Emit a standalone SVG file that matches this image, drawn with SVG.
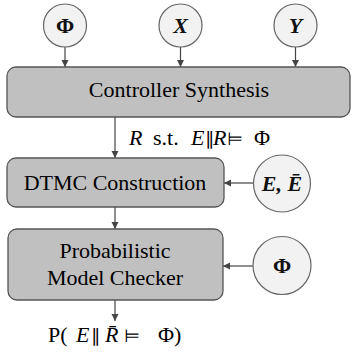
<svg xmlns="http://www.w3.org/2000/svg" width="352" height="354" viewBox="0 0 352 354">
<defs>
<marker id="ah" markerWidth="8" markerHeight="8" refX="7" refY="4" orient="auto" markerUnits="userSpaceOnUse">
<path d="M0,0.5 L7,4 L0,7.5 Z" fill="#444"/>
</marker>
</defs>
<rect width="352" height="354" fill="#fff"/>
<g id="connectors" stroke="#444" stroke-width="1.2" fill="none" marker-end="url(#ah)">
<line x1="65" y1="47" x2="65" y2="67"/>
<line x1="180.5" y1="47" x2="180.5" y2="67"/>
<line x1="295.5" y1="47" x2="295.5" y2="67"/>
<line x1="115" y1="117" x2="115" y2="158"/>
<line x1="253" y1="183" x2="224" y2="183"/>
<line x1="115" y1="207" x2="115" y2="229"/>
<line x1="253" y1="266" x2="223" y2="266"/>
<line x1="115" y1="300" x2="115" y2="321"/>
</g>
<g id="controller-synthesis">
<rect x="7" y="67" width="343" height="50" rx="9" fill="#c0c0c0" stroke="#555" stroke-width="1.3"/>
<text font-family="Times New Roman" font-weight="normal" font-size="22" x="179" y="97" text-anchor="middle">Controller Synthesis</text>
</g>
<g id="dtmc-construction">
<rect x="7" y="158" width="217" height="49" rx="9" fill="#c0c0c0" stroke="#555" stroke-width="1.3"/>
<text font-family="Times New Roman" font-weight="normal" font-size="22" x="115" y="190" text-anchor="middle">DTMC Construction</text>
</g>
<g id="probabilistic-model-checker">
<rect x="8" y="229" width="215" height="71" rx="9" fill="#c0c0c0" stroke="#555" stroke-width="1.3"/>
<text font-family="Times New Roman" font-weight="normal" font-size="22" x="115" y="258" text-anchor="middle">Probabilistic</text>
<text font-family="Times New Roman" font-weight="normal" font-size="22" x="115" y="285" text-anchor="middle">Model Checker</text>
</g>
<g id="phi-top">
<circle cx="65" cy="25.5" r="21.5" fill="#f2f2f2" stroke="#666" stroke-width="1.2"/>
<text font-family="Liberation Serif, serif" font-size="22" font-weight="bold" fill="#111" x="65" y="33" text-anchor="middle">Φ</text>
</g>
<g id="x-in">
<circle cx="180.5" cy="25.5" r="21.5" fill="#f2f2f2" stroke="#666" stroke-width="1.2"/>
<text font-family="Liberation Serif, serif" font-size="22" font-weight="bold" font-style="italic" fill="#111" x="180.5" y="33" text-anchor="middle">X</text>
</g>
<g id="y-in">
<circle cx="295.5" cy="25.5" r="21.5" fill="#f2f2f2" stroke="#666" stroke-width="1.2"/>
<text font-family="Liberation Serif, serif" font-size="22" font-weight="bold" font-style="italic" fill="#111" x="295.5" y="33" text-anchor="middle">Y</text>
</g>
<g id="e-ebar">
<circle cx="282" cy="183.5" r="28.5" fill="#f2f2f2" stroke="#666" stroke-width="1.2"/>
<text font-family="Liberation Serif, serif" font-size="22" font-weight="bold" font-style="italic" fill="#111" x="282" y="191" text-anchor="middle">E, Ē</text>
</g>
<g id="phi-right">
<circle cx="282" cy="265.5" r="29" fill="#f2f2f2" stroke="#666" stroke-width="1.2"/>
<text font-family="Liberation Serif, serif" font-size="22" font-weight="bold" fill="#111" x="282" y="273" text-anchor="middle">Φ</text>
</g>
<g id="r-label">
<text font-family="Times New Roman" font-size="22" y="145"><tspan x="129" font-style="italic">R</tspan><tspan x="153">s.t.</tspan><tspan x="191" font-style="italic">E</tspan><tspan x="205" font-family="DejaVu Sans" font-size="18">∥</tspan><tspan x="213" font-style="italic">R</tspan><tspan x="227" font-family="DejaVu Sans" font-size="18">⊨</tspan><tspan x="254">Φ</tspan></text>
</g>
<g id="output">
<text font-family="Times New Roman" font-size="22" y="342"><tspan x="48">P(</tspan><tspan x="76" font-style="italic">E</tspan><tspan x="91" font-family="DejaVu Sans" font-size="18">∥</tspan><tspan x="105" font-style="italic">R̄</tspan><tspan x="124" font-family="DejaVu Sans" font-size="18">⊨</tspan><tspan x="158">Φ)</tspan></text>
</g>
</svg>
